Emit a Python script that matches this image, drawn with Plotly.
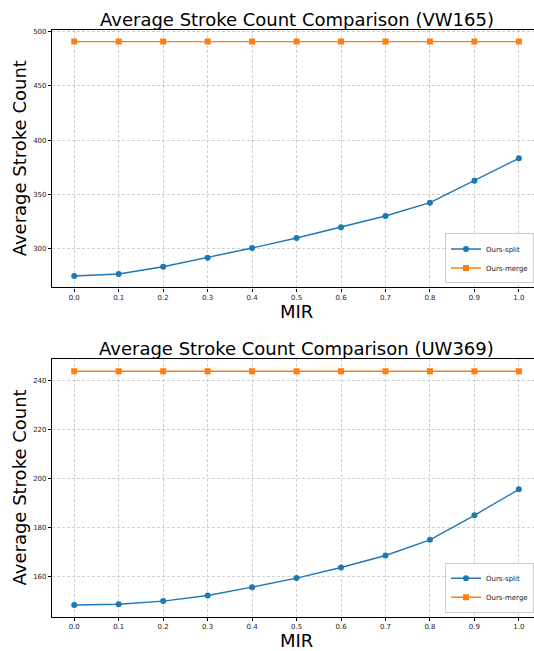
import plotly.graph_objects as go

mir = [0.0, 0.1, 0.2, 0.3, 0.4, 0.5, 0.6, 0.7, 0.8, 0.9, 1.0]
mir_ticks = ["0.0", "0.1", "0.2", "0.3", "0.4", "0.5", "0.6", "0.7", "0.8", "0.9", "1.0"]

vw_split = [274.8, 276.7, 283.4, 291.7, 300.6, 309.8, 319.7, 330.1, 342.4, 362.6, 383.3]
vw_merge = [490.8] * 11
uw_split = [148.5, 148.8, 150.1, 152.4, 155.8, 159.5, 163.8, 168.7, 175.1, 185.1, 195.7]
uw_merge = [243.9] * 11

vw_yticks = [300, 350, 400, 450, 500]
uw_yticks = [160, 180, 200, 220, 240]

titles = ["Average Stroke Count Comparison (VW165)", "Average Stroke Count Comparison (UW369)"]
xlabel = "MIR"
ylabel = "Average Stroke Count"
names = ["Ours-split", "Ours-merge"]

BLUE = "#1f77b4"
ORANGE = "#ff7f0e"
FONT = "DejaVu Sans"
W, H = 534, 651

fig = go.Figure()

panels = [
    dict(split=vw_split, merge=vw_merge, yticks=vw_yticks, yrange=[264.3, 501.3],
         dom=[(H - 286.3) / H, (H - 28.3) / H], xa="x", ya="y", leg="legend"),
    dict(split=uw_split, merge=uw_merge, yticks=uw_yticks, yrange=[143.7, 248.8],
         dom=[(H - 616.7) / H, (H - 358.3) / H], xa="x2", ya="y2", leg="legend2"),
]

for i, p in enumerate(panels):
    fig.add_trace(go.Scatter(x=mir, y=p["split"], mode="lines+markers", name=names[0],
                             line=dict(color=BLUE, width=1.4),
                             marker=dict(symbol="circle", size=6, color=BLUE),
                             xaxis=p["xa"], yaxis=p["ya"], legend=p["leg"]))
    fig.add_trace(go.Scatter(x=mir, y=p["merge"], mode="lines+markers", name=names[1],
                             line=dict(color=ORANGE, width=1.4),
                             marker=dict(symbol="square", size=6, color=ORANGE),
                             xaxis=p["xa"], yaxis=p["ya"], legend=p["leg"]))

axis_common = dict(showline=True, linecolor="black", linewidth=1.2,
                   ticks="outside", ticklen=3, tickwidth=1, tickcolor="black",
                   showgrid=True, gridcolor="rgba(150,150,150,0.45)", gridwidth=0.7,
                   griddash="3px,2px", zeroline=False,
                   tickfont=dict(family=FONT, size=7, color="#222"))

layout = dict(width=W, height=H, margin=dict(l=52, r=0, t=0, b=0),
              paper_bgcolor="white", plot_bgcolor="white",
              font=dict(family=FONT, color="black"))

annotations = []
for i, p in enumerate(panels):
    xkey = "xaxis" if i == 0 else "xaxis2"
    ykey = "yaxis" if i == 0 else "yaxis2"
    layout[xkey] = dict(axis_common, domain=[0, 1], range=[-0.05, 1.034],
                        tickvals=mir, ticktext=mir_ticks, mirror=True,
                        anchor=p["ya"])
    layout[ykey] = dict(axis_common, domain=p["dom"], range=p["yrange"],
                        tickvals=p["yticks"], ticktext=[str(v) for v in p["yticks"]],
                        mirror=False, anchor=p["xa"])
    top_px = H * (1 - p["dom"][1])
    bot_px = H * (1 - p["dom"][0])
    annotations.append(dict(text=titles[i], xref="paper", yref="paper",
                            x=(296.7 - 52) / (W - 52), y=1 - (top_px - 11) / H,
                            xanchor="center", yanchor="middle", showarrow=False,
                            font=dict(family=FONT, size=18, color="black")))
    annotations.append(dict(text=xlabel, xref="paper", yref="paper",
                            x=(296.7 - 52) / (W - 52), y=1 - (bot_px + 24) / H,
                            xanchor="center", yanchor="middle", showarrow=False,
                            font=dict(family=FONT, size=18, color="black")))
    annotations.append(dict(text=ylabel, xref="paper", yref="paper",
                            x=(19.5 - 52) / (W - 52), y=1 - ((top_px + bot_px) / 2) / H,
                            xanchor="center", yanchor="middle", textangle=-90,
                            showarrow=False,
                            font=dict(family=FONT, size=18, color="black")))
    leg = dict(x=1, y=1 - (bot_px - 4) / H, xanchor="right", yanchor="bottom",
               bgcolor="rgba(255,255,255,0.8)", bordercolor="#cccccc", borderwidth=1,
               font=dict(family=FONT, size=7, color="#222"), itemwidth=30,
               tracegroupgap=0)
    layout["legend" if i == 0 else "legend2"] = leg

layout["annotations"] = annotations
fig.update_layout(**layout)
fig.write_html("out.html")
